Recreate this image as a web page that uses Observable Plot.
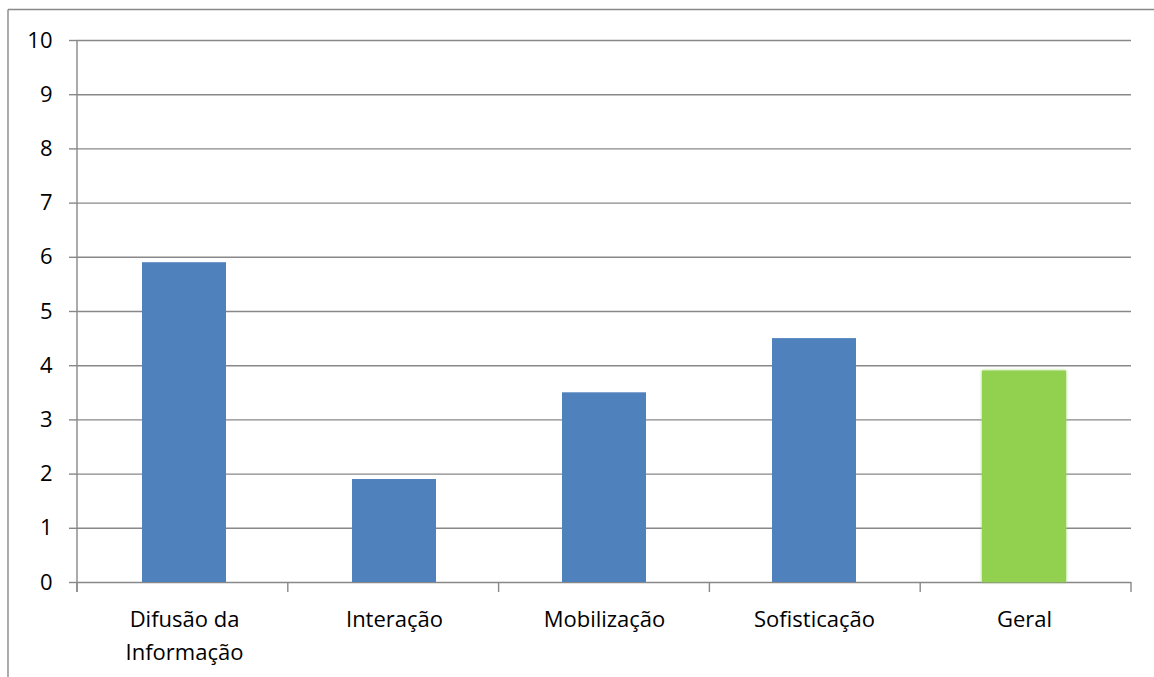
<!DOCTYPE html>
<html>
<head>
<meta charset="utf-8">
<script src="https://cdn.jsdelivr.net/npm/d3@7"></script>
<script src="https://cdn.jsdelivr.net/npm/@observablehq/plot@0.6"></script>
<style>
  html, body { margin: 0; padding: 0; background: #fff; }
  #chart { position: relative; width: 1154px; height: 677px; overflow: hidden; }
</style>
</head>
<body>
<div id="chart"></div>
<script>
const categories = ["Difusão da Informação", "Interação", "Mobilização", "Sofisticação", "Geral"];
const tickLabels = ["Difusão da\nInformação", "Interação", "Mobilização", "Sofisticação", "Geral"];
const values = [5.9, 1.9, 3.5, 4.5, 3.9];
const barColors = ["#4F81BD", "#4F81BD", "#4F81BD", "#4F81BD", "#92D050"];
const yTicks = [0, 1, 2, 3, 4, 5, 6, 7, 8, 9, 10];

const data = categories.map((c, i) => ({category: c, value: values[i], color: barColors[i]}));
const gridColor = "#888888";
const font = "'Open Sans', Lato, sans-serif";

const plot = Plot.plot({
  width: 1154,
  height: 677,
  marginLeft: 77,
  marginRight: 23,
  marginTop: 40,
  marginBottom: 95,
  style: {fontFamily: font, fontSize: "22px", color: "#000", background: "#fff"},
  x: {domain: categories, paddingInner: 0.6, paddingOuter: 0.3, label: null},
  y: {domain: [0, 10], label: null},
  marks: [
    Plot.gridY(yTicks, {stroke: gridColor, strokeOpacity: 1, strokeWidth: 1.4}),
    Plot.axisY(yTicks, {tickSize: 8, tickPadding: 17, stroke: gridColor, strokeWidth: 1.4, fontSize: 22, fill: "#000", label: null, tickFormat: d => String(d)}),
    Plot.axisX({tickSize: 0, tickPadding: 21, fontSize: 22, fill: "#000", lineHeight: 1.5,
      tickFormat: d => tickLabels[categories.indexOf(d)], label: null}),
    Plot.barY(data, {x: "category", y: "value", fill: "color"})
  ]
});

const container = document.getElementById("chart");
container.appendChild(plot);

// axis line and category boundary ticks, positioned from the plot's scales
const svg = d3.select(plot);
const xs = plot.scale("x");
const ys = plot.scale("y");
const y0 = ys.apply(0), y10 = ys.apply(10);
const [xr0, xr1] = xs.range;
const step = (xr1 - xr0) / categories.length;
const g = svg.append("g").attr("stroke", gridColor).attr("stroke-width", 1.4);
g.append("line").attr("x1", xr0).attr("x2", xr0).attr("y1", y10).attr("y2", y0 + 10);
for (let i = 0; i <= categories.length; i++) {
  const bx = xr0 + i * step;
  g.append("line").attr("x1", bx).attr("x2", bx).attr("y1", y0).attr("y2", y0 + 10);
}
// chart area border (top and left edges visible)
const b = svg.append("g").attr("stroke", gridColor).attr("stroke-width", 1.4).attr("fill", "none");
b.append("line").attr("x1", 8).attr("x2", 1154).attr("y1", 9.5).attr("y2", 9.5);
b.append("line").attr("x1", 8).attr("x2", 8).attr("y1", 9.5).attr("y2", 677);
// soft glow on the green bar
svg.selectAll("rect").filter(function() { return d3.select(this).attr("fill") === "#92D050"; })
  .style("filter", "drop-shadow(0 0 1.5px #92D050)");
</script>
</body>
</html>
